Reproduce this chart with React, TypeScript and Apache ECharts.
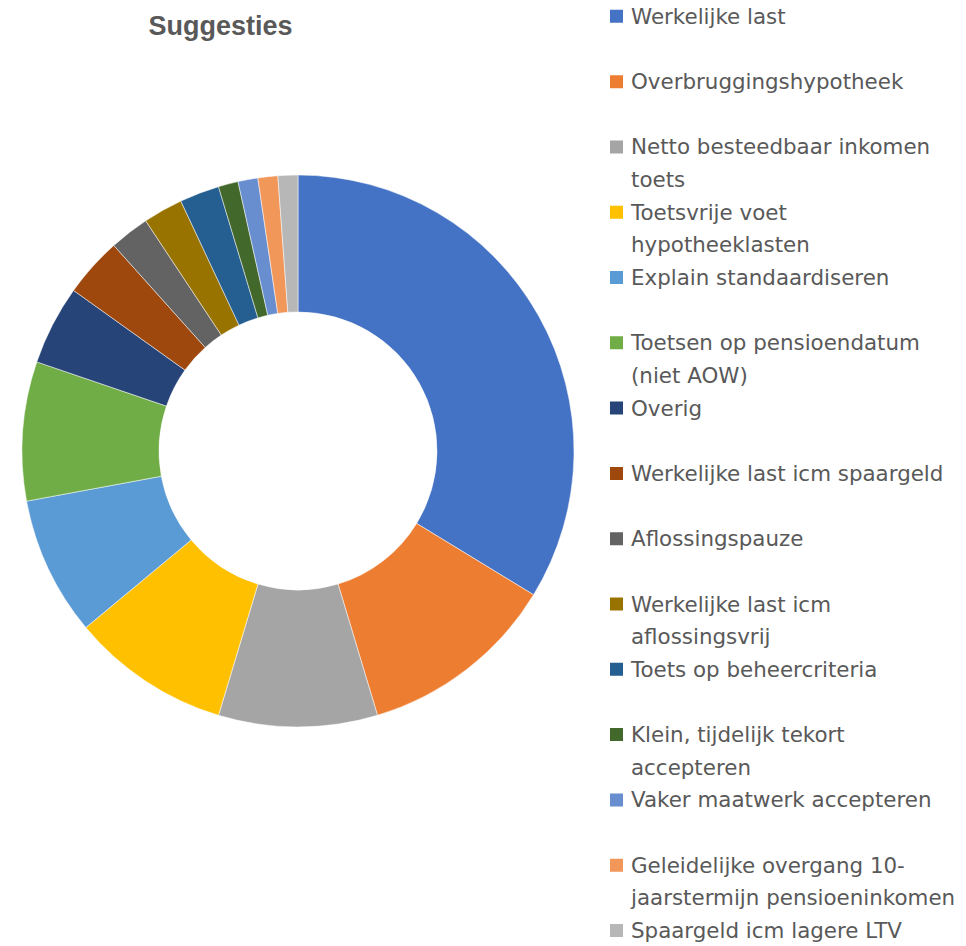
import React, { useEffect, useRef } from "react";
import * as echarts from "echarts";

const categories = [
  "Werkelijke last",
  "Overbruggingshypotheek",
  "Netto besteedbaar inkomen toets",
  "Toetsvrije voet hypotheeklasten",
  "Explain standaardiseren",
  "Toetsen op pensioendatum (niet AOW)",
  "Overig",
  "Werkelijke last icm spaargeld",
  "Aflossingspauze",
  "Werkelijke last icm aflossingsvrij",
  "Toets op beheercriteria",
  "Klein, tijdelijk tekort accepteren",
  "Vaker maatwerk accepteren",
  "Geleidelijke overgang 10-jaarstermijn pensioeninkomen",
  "Spaargeld icm lagere LTV",
];

const values = [29, 10, 8, 8, 7, 7, 4, 3, 2, 2, 2, 1, 1, 1, 1];

const colors = [
  "#4472C4",
  "#ED7D31",
  "#A5A5A5",
  "#FFC000",
  "#5B9BD5",
  "#70AD47",
  "#264478",
  "#9E480E",
  "#636363",
  "#997300",
  "#255E91",
  "#43682B",
  "#698ED0",
  "#F1975A",
  "#B7B7B7",
];

// legend labels as they wrap in the reference
const legendLabels: Record<string, string> = {
  "Netto besteedbaar inkomen toets": "Netto besteedbaar inkomen\ntoets",
  "Toetsvrije voet hypotheeklasten": "Toetsvrije voet\nhypotheeklasten",
  "Toetsen op pensioendatum (niet AOW)": "Toetsen op pensioendatum\n(niet AOW)",
  "Werkelijke last icm aflossingsvrij": "Werkelijke last icm\naflossingsvrij",
  "Klein, tijdelijk tekort accepteren": "Klein, tijdelijk tekort\naccepteren",
  "Geleidelijke overgang 10-jaarstermijn pensioeninkomen":
    "Geleidelijke overgang 10-\njaarstermijn pensioeninkomen",
};

const title = "Suggesties";

export default function App() {
  const ref = useRef<HTMLDivElement>(null);

  useEffect(() => {
    if (!ref.current) return;
    const chart = echarts.init(ref.current, undefined, { renderer: "svg" });
    const pitch = 65.3;
    const line = pitch / 2;
    const sqTop = line / 2 - 6.5;
    const iconPath =
      `path://M0,${sqTop}L13,${sqTop}L13,${sqTop + 13}L0,${sqTop + 13}Z` +
      `M0,0L0.01,0L0.01,0.01Z M15.99,${pitch - 0.01}L16,${pitch - 0.01}L16,${pitch}Z`;

    chart.setOption({
      animation: false,
      backgroundColor: "#ffffff",
      color: colors,
      graphic: [
        {
          type: "text",
          x: 220.5,
          y: 26,
          style: {
            text: title,
            align: "center",
            verticalAlign: "middle",
            fontFamily: "Liberation Sans",
            fontWeight: "bold",
            fontSize: 27,
            fill: "#595959",
          },
        },
      ],
      legend: {
        orient: "vertical",
        left: 610,
        top: 0,
        height: 1200,
        padding: 0,
        itemGap: 0,
        itemWidth: 16,
        itemHeight: pitch,
        icon: iconPath,
        selectedMode: false,
        itemStyle: { borderWidth: 0 },
        formatter: (name: string) =>
          legendLabels[name] !== undefined ? legendLabels[name] : name + "\n",
        textStyle: {
          fontFamily: "DejaVu Sans",
          fontSize: 21.4,
          color: "#595959",
          lineHeight: line,
        },
        data: categories,
      },
      series: [
        {
          type: "pie",
          center: [298, 451],
          radius: [139, 276],
          startAngle: 90,
          clockwise: true,
          label: { show: false },
          labelLine: { show: false },
          emphasis: { disabled: true },
          itemStyle: { borderColor: "#ffffff", borderWidth: 0.5 },
          data: categories.map((name, i) => ({ name, value: values[i] })),
        },
      ],
    });
    return () => chart.dispose();
  }, []);

  return (
    <div
      ref={ref}
      style={{ position: "absolute", left: 0, top: 0, width: 966, height: 946 }}
    />
  );
}
